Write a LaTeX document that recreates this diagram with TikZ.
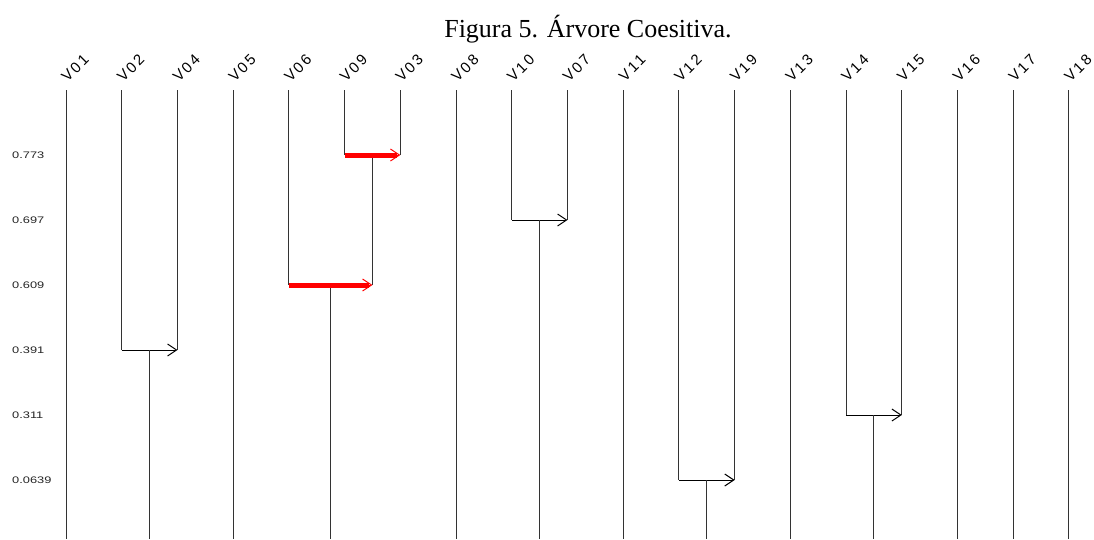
\documentclass[tikz,border=0pt]{standalone}
\usepackage{fontspec}
\usepackage{graphicx}
\setmainfont{Liberation Serif}
\setsansfont{Liberation Sans}
\newfontfamily\leaffont[LetterSpace=15]{Liberation Sans}
\usetikzlibrary{arrows.meta,calc}
\begin{document}
\begin{tikzpicture}[x=1pt,y=-1pt,
  vline/.style={line width=1pt, black!80},
  hline/.style={line width=1pt, black},
  redline/.style={line width=5pt, red, shorten >=3pt},
  barb/.style={-{Straight Barb[length=9pt,width=12pt,line width=1pt]}},
  redbarb/.style={red, line width=1pt, -{Straight Barb[length=9pt,width=12pt,line width=1pt]}},
  lvl/.style={font=\sffamily\fontsize{9.5}{9.5}\selectfont, anchor=west, inner sep=0pt, text=black!85},
  leaf/.style={font=\leaffont\fontsize{15}{15}\selectfont, inner sep=0pt},
  title/.style={font=\fontsize{26}{30}\selectfont, anchor=base, inner sep=0pt},
]
\useasboundingbox (0,0) rectangle (1094,539);
\fill[white] (0,0) rectangle (1094,539);

\node[title] (ttl) at (588,37) {Figura 5. Árvore Coesitiva.};

% leaf positions
\foreach \n/\i in {01/0,02/1,04/2,05/3,06/4,09/5,03/6,08/7,10/8,07/9,11/10,12/11,19/12,13/13,14/14,15/15,16/16,17/17,18/18}{
  \coordinate (t\n) at ({66+55.72*\i},90);
  \coordinate (b\n) at ({66+55.72*\i},539);
  \node[leaf] (lab\n) at ({75+55.72*\i},68) {\rotatebox{45}{V\n}};
}

% level labels
\foreach \v/\y in {0.773/155,0.697/220,0.609/285,0.391/350,0.311/415,0.0639/480}{
  \node[lvl] (lv\y) at (12,\y) {\scalebox{1.35}[1]{\v}};
  \coordinate (y\y) at (0,\y);
}

% unmerged leaves
\foreach \n in {01,05,08,11,13,16,17,18}{
  \draw[vline] (t\n) -- (b\n);
}

% simple black joins: left leaf / right leaf / level
\foreach \a/\b/\y/\m in {02/04/350/A,10/07/220/B,12/19/480/C,14/15/415/D}{
  \coordinate (h\a) at (t\a |- y\y);
  \coordinate (h\b) at (t\b |- y\y);
  \coordinate (m\m) at ($(h\a)!0.5!(h\b)$);
  \coordinate (e\m) at (m\m |- b01);
  \draw[vline] (t\a) -- (h\a);
  \draw[vline] (t\b) -- (h\b);
  \draw[hline, barb] (h\a) -- (h\b);
  \draw[vline] (m\m) -- (e\m);
}

% red cluster: V09-V03 at 0.773
\coordinate (h09) at (t09 |- y155);
\coordinate (h03) at (t03 |- y155);
\coordinate (mE) at ($(h09)!0.5!(h03)$);
\draw[vline] (t09) -- (h09);
\draw[vline] (t03) -- (h03);
% then V06 with (V09,V03) at 0.609
\coordinate (h06) at (t06 |- y285);
\coordinate (kE) at (mE |- y285);
\coordinate (mF) at ($(h06)!0.5!(kE)$);
\coordinate (eF) at (mF |- b01);
\draw[vline] (t06) -- (h06);
\draw[vline] (mE) -- (kE);
\draw[vline] (mF) -- (eF);
\draw[redline] (h09) -- (h03);
\draw[redbarb] ($(h03)+(-8,0)$) coordinate (r1) -- (h03);
\draw[redline] (h06) -- (kE);
\draw[redbarb] ($(kE)+(-8,0)$) coordinate (r2) -- (kE);
\end{tikzpicture}
\end{document}
